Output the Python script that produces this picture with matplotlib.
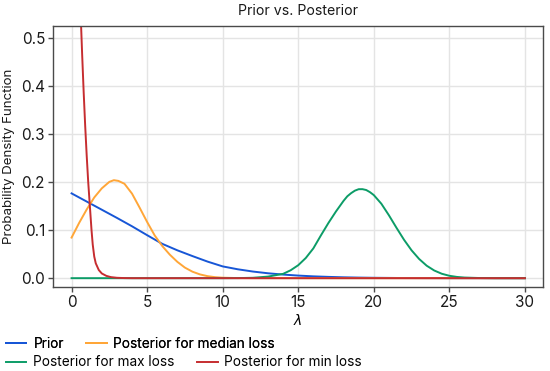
import matplotlib
matplotlib.use("Agg")
import matplotlib.pyplot as plt

plt.rcParams["font.family"] = ["Inter", "DejaVu Sans"]

# values
prior_x = [0, 1, 2, 3, 4, 5, 6, 7, 8, 9, 10, 11, 12, 13, 14, 15, 16, 17, 18, 19, 20, 22, 25, 30]
prior_y = [0.1765, 0.1595, 0.1425, 0.1255, 0.108, 0.0895, 0.0715, 0.058, 0.046, 0.0345, 0.0245,
           0.0185, 0.0138, 0.0102, 0.0075, 0.0054, 0.0038, 0.0027, 0.0018, 0.0012, 0.0008,
           0.0003, 0.0001, 0.0]

median_x = [0, 0.5, 1.0, 1.5, 2.0, 2.5, 2.8, 3.1, 3.5, 4.0, 4.5, 5.0, 5.5, 6.0, 6.5, 7.0, 7.5,
            8.0, 8.5, 9.0, 9.5, 10, 11, 12, 30]
median_y = [0.0845, 0.115, 0.143, 0.168, 0.187, 0.2005, 0.204, 0.2025, 0.1965, 0.176, 0.147,
            0.117, 0.089, 0.067, 0.049, 0.034, 0.022, 0.0135, 0.0078, 0.0042, 0.0021, 0.001,
            0.0002, 0.0, 0.0]

max_x = [0, 10, 11, 12, 13, 14, 14.5, 15, 15.5, 16, 16.5, 17, 17.5, 18, 18.25, 18.5, 18.75,
         19, 19.25, 19.5, 19.75, 20, 20.5, 21, 21.5, 22, 22.5, 23, 23.5, 24, 24.5, 25, 25.5,
         26, 27, 28, 30]
max_y = [0.0, 0.0, 0.00015, 0.0008, 0.0033, 0.009, 0.0165, 0.027, 0.042, 0.062, 0.089, 0.115,
         0.139, 0.161, 0.1705, 0.177, 0.1822, 0.1852, 0.1853, 0.1835, 0.179, 0.173, 0.155,
         0.131, 0.105, 0.08, 0.058, 0.04, 0.026, 0.016, 0.0092, 0.005, 0.0026, 0.0013, 0.0003,
         0.0, 0.0]

min_x = [0, 0.2, 0.4, 0.5, 0.63, 0.7, 0.8, 0.9, 1.0, 1.1, 1.2, 1.32, 1.4, 1.5, 1.6, 1.8, 2.0,
         2.3, 2.6, 3.0, 3.5, 4.0, 30]
min_y = [1.8, 1.2, 0.8, 0.65, 0.525, 0.4655, 0.3875, 0.3175, 0.2555, 0.2005, 0.155, 0.10,
         0.07, 0.045, 0.031, 0.017, 0.0098, 0.0048, 0.0022, 0.0008, 0.0002, 0.0, 0.0]

series = [
    ("Prior", prior_x, prior_y, "#1756d6"),
    ("Posterior for median loss", median_x, median_y, "#ffa638"),
    ("Posterior for max loss", max_x, max_y, "#0c9c67"),
    ("Posterior for min loss", min_x, min_y, "#c62d30"),
]

fig = plt.figure(figsize=(5.5, 3.71), dpi=100)
ax = fig.add_axes([0.0958, 0.2256, 0.8915, 0.7044])

handles = []
for name, xs, ys, col in series:
    h, = ax.plot(xs, ys, color=col, lw=1.4, label=name)
    handles.append(h)

ax.set_xlim(-1.25, 31.2)
ax.set_ylim(-0.019, 0.525)
ax.set_xticks([0, 5, 10, 15, 20, 25, 30])
ax.set_yticks([0.0, 0.1, 0.2, 0.3, 0.4, 0.5])
ax.set_yticklabels(["0.0", "0.1", "0.2", "0.3", "0.4", "0.5"])
ax.grid(True, color="#e4e4e4", lw=1.0)
ax.set_axisbelow(True)
for sp in ax.spines.values():
    sp.set_color("#4a4a4a")
    sp.set_linewidth(1.0)
ax.tick_params(labelsize=11, length=3.5, width=1.0, color="#4a4a4a", labelcolor="#1a1a1a", pad=2)

ax.set_xlabel("$\\lambda$", fontsize=10, labelpad=2)
ax.set_ylabel("Probability Density Function", fontsize=9.6, labelpad=4, color="#1a1a1a")
fig.text(0.5418, 0.970, "Prior vs. Posterior", ha="center", va="center", fontsize=10.2, color="#1a1a1a")

leg_kw = dict(loc="center left", frameon=False, ncol=2, fontsize=9.8, handlelength=1.5,
              handletextpad=0.5, columnspacing=1.65, borderpad=0, borderaxespad=0)
leg1 = fig.legend(handles[:2], [s[0] for s in series[:2]], bbox_to_anchor=(0.011, 0.0740), **leg_kw)
fig.add_artist(leg1)
fig.legend(handles[2:], [s[0] for s in series[2:]], bbox_to_anchor=(0.011, 0.0235), **leg_kw)

fig.savefig("out.png", dpi=100)
